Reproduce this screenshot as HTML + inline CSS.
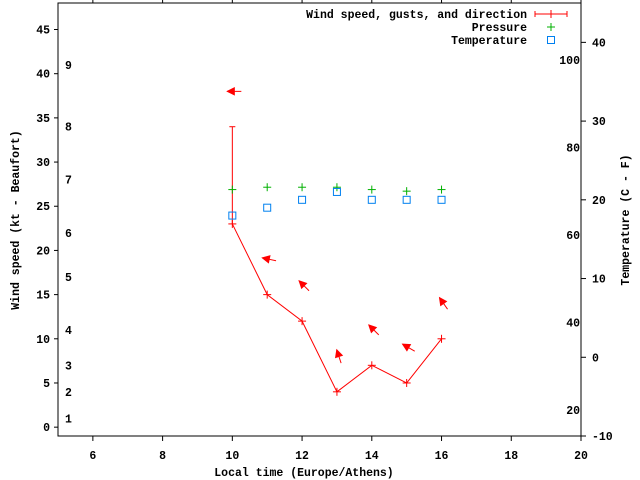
<!DOCTYPE html>
<html><head><meta charset="utf-8"><style>
html,body{margin:0;padding:0;background:#fff;}
svg{display:block;font-family:"Liberation Mono","DejaVu Sans Mono",monospace;font-weight:bold;font-size:11.5px;}
</style></head><body>
<svg id="chart" width="640" height="480" viewBox="0 0 640 480"></svg>
<script>
const hours = [10, 11, 12, 13, 14, 15, 16];
const windSpeed = [23, 15, 12, 4, 7, 5, 10];
const gustHigh = [34, null, null, null, null, null, null];
const arrowLevel = [38, 19, 16, 8, 11, 9, 14];
const arrowDirDeg = [90, 78, 45, 18, 45, 60, 35];
const pressureC = [21.3, 21.6, 21.6, 21.6, 21.3, 21.1, 21.3];
const temperatureC = [18, 19, 20, 21, 20, 20, 20];
const xTicks = [6, 8, 10, 12, 14, 16, 18, 20];
const yTicks = [0, 5, 10, 15, 20, 25, 30, 35, 40, 45];
const y2Ticks = [-10, 0, 10, 20, 30, 40];
const fTicks = [20, 40, 60, 80, 100];
const bftLabels = [1, 2, 3, 4, 5, 6, 7, 8, 9];
const bftKnots = [1, 4, 7, 11, 17, 22, 28, 34, 41];

const L = 58, R = 581, T = 3, B = 436;
const X = h => L + (h - 5) / 15 * (R - L);
const Y = v => B - (v + 1) / 49 * (B - T);
const Y2 = c => B - (c + 10) / 55 * (B - T);
const NS = "http://www.w3.org/2000/svg";
const svg = document.getElementById("chart");
function mk(tag, attrs, parent) {
  const e = document.createElementNS(NS, tag);
  for (const k in attrs) e.setAttribute(k, attrs[k]);
  (parent || svg).appendChild(e);
  return e;
}
function txt(x, y, s, anchor, name) {
  const t = mk("text", {x: x, y: y, "text-anchor": anchor || "start", fill: "#000"});
  t.textContent = s;
  
  
  return t;
}
function plus(x, y, color, name) {
  const g = mk("g", {stroke: color, "stroke-width": 1});
  
  
  mk("line", {x1: x - 4, y1: y, x2: x + 4, y2: y}, g);
  mk("line", {x1: x, y1: y - 4, x2: x, y2: y + 4}, g);
  return g;
}
const frame = mk("rect", {x: L, y: T, width: R - L, height: B - T, fill: "none", stroke: "#000", "stroke-width": 1});


xTicks.forEach(v => {
  const x = X(v);
  mk("line", {x1: x, y1: B, x2: x, y2: B + 5, stroke: "#000"});
  mk("line", {x1: x, y1: T, x2: x, y2: T - 4, stroke: "#000"});
  txt(x, 459, String(v), "middle", "x-tick-label");
});
yTicks.forEach(v => {
  const y = Y(v);
  mk("line", {x1: L, y1: y, x2: L - 4, y2: y, stroke: "#000"});
  txt(50, y + 4, String(v), "end", "y-tick-label");
});
y2Ticks.forEach(v => {
  const y = Y2(v);
  mk("line", {x1: R, y1: y, x2: R + 5, y2: y, stroke: "#000"});
  txt(592, y + 4, String(v), "start", "y2-tick-label");
});
fTicks.forEach(f => {
  const c = (f - 32) * 5 / 9;
  txt(580, Y2(c) + 4, String(f), "end", "fahrenheit-label");
});
bftLabels.forEach((b, i) => {
  txt(65, Y(bftKnots[i]) + 4, String(b), "start", "beaufort-label");
});
txt(304, 476, "Local time (Europe/Athens)", "middle", "x-axis-title");
const yt = txt(0, 0, "Wind speed (kt - Beaufort)", "middle", "y-axis-title");
yt.setAttribute("transform", "translate(19,220) rotate(-90)");
const y2t = txt(0, 0, "Temperature (C - F)", "middle", "y2-axis-title");
y2t.setAttribute("transform", "translate(629,220) rotate(-90)");
const pts = hours.map((h, i) => X(h) + "," + Y(windSpeed[i])).join(" ");
const wl = mk("polyline", {points: pts, fill: "none", stroke: "#f00", "stroke-width": 1});


hours.forEach((h, i) => {
  plus(X(h), Y(windSpeed[i]), "#f00", "wind-speed-point");
  if (gustHigh[i] != null) {
    const g = mk("g", {stroke: "#f00", "stroke-width": 1});
    
    
    mk("line", {x1: X(h), y1: Y(windSpeed[i]), x2: X(h), y2: Y(gustHigh[i])}, g);
    mk("line", {x1: X(h) - 3, y1: Y(gustHigh[i]), x2: X(h) + 3, y2: Y(gustHigh[i])}, g);
  }
});
hours.forEach((h, i) => {
  const cx = X(h) + 2, cy = Y(arrowLevel[i]);
  const a = arrowDirDeg[i] * Math.PI / 180;
  const dx = -Math.sin(a), dy = -Math.cos(a);
  const hx = cx + dx * 7, hy = cy + dy * 7, tx = cx - dx * 7, ty = cy - dy * 7;
  const g = mk("g", {fill: "#f00", stroke: "#f00", "stroke-width": 1});
  
  
  mk("line", {x1: tx, y1: ty, x2: hx, y2: hy}, g);
  const px = -dy, py = dx;
  const bx = hx - dx * 7, by = hy - dy * 7;
  mk("polygon", {points: `${hx},${hy} ${bx + px * 3.5},${by + py * 3.5} ${bx - px * 3.5},${by - py * 3.5}`}, g);
});
hours.forEach((h, i) => {
  plus(X(h), Y2(pressureC[i]), "#00b000", "pressure-point");
  const r = mk("rect", {x: X(h) - 3.5, y: Y2(temperatureC[i]) - 3.5, width: 7, height: 7, fill: "none", stroke: "#0080f0", "stroke-width": 1});
  
  
});
txt(527, 18, "Wind speed, gusts, and direction", "end", "legend-wind-label");
txt(527, 31, "Pressure", "end", "legend-pressure-label");
txt(527, 44, "Temperature", "end", "legend-temperature-label");
const lg = mk("g", {stroke: "#f00", "stroke-width": 1});


mk("line", {x1: 535, y1: 14, x2: 567, y2: 14}, lg);
mk("line", {x1: 535, y1: 11, x2: 535, y2: 17}, lg);
mk("line", {x1: 567, y1: 11, x2: 567, y2: 17}, lg);
mk("line", {x1: 551, y1: 10, x2: 551, y2: 18}, lg);
plus(551, 27, "#00b000", "legend-pressure-sample");
const ls = mk("rect", {x: 547.5, y: 36.5, width: 7, height: 7, fill: "none", stroke: "#0080f0"});


</script>
</body></html>
